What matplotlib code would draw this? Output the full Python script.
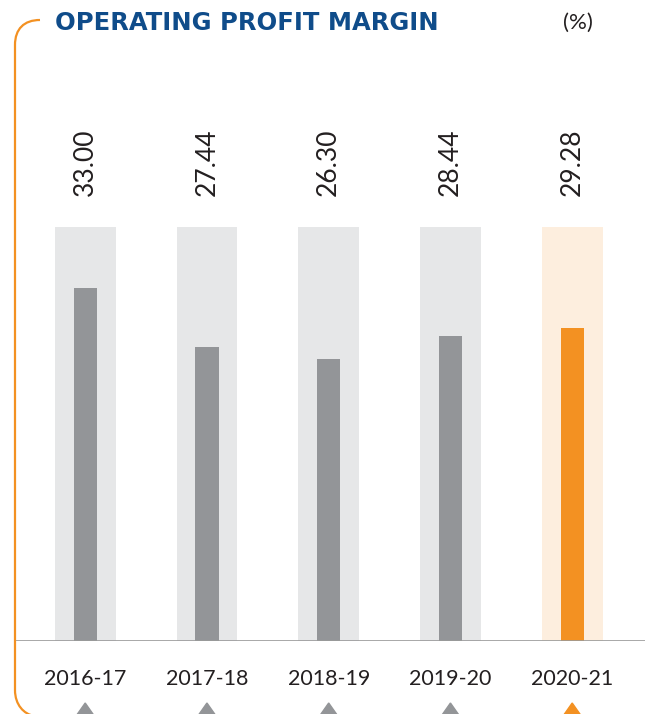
import matplotlib
matplotlib.use("Agg")
import matplotlib.pyplot as plt
from matplotlib.path import Path
from matplotlib.patches import PathPatch, Polygon
from matplotlib.transforms import blended_transform_factory

years = ["2016-17", "2017-18", "2018-19", "2019-20", "2020-21"]
values = [33.00, 27.44, 26.30, 28.44, 29.28]
labels = ["33.00", "27.44", "26.30", "28.44", "29.28"]
bg_value = 38.67

W, H = 648, 714
fig = plt.figure(figsize=(W / 100, H / 100), dpi=100)
ax = fig.add_axes([15 / W, 73 / H, 630 / W, 621 / H])

grey = "#939598"
grey_bg = "#e6e7e8"
orange = "#f39122"
orange_bg = "#fdeede"
blue = "#0f4c8a"
txt = "#231f20"

x = list(range(len(years)))
for i, v in enumerate(values):
    last = i == len(values) - 1
    ax.bar(i, bg_value, width=0.50, color=orange_bg if last else grey_bg, zorder=1)
    ax.bar(i, v, width=0.19, color=orange if last else grey, zorder=2)
    ax.text(i, 41.6, labels[i], rotation=90, ha="center", va="bottom",
            fontsize=19, family="Lato", color=txt)

ax.set_xlim(-0.5766, 4.598)
ax.set_ylim(0, 58)
ax.axhline(0, color="#9a9a9a", lw=1.2, zorder=3)
for s in ax.spines.values():
    s.set_visible(False)
ax.set_xticks(x)
ax.set_xticklabels(years, fontsize=15.5, family="Lato", color=txt)
ax.tick_params(axis="x", length=0, pad=20)
ax.set_yticks([])

# triangles at bottom
tr = blended_transform_factory(ax.transData, fig.transFigure)
for i in x:
    c = orange if i == len(x) - 1 else grey
    hw = 0.075
    poly = Polygon([(i - hw, -2 / H), (i + hw, -2 / H), (i, 11 / H)],
                   closed=True, color=c, transform=tr, clip_on=False)
    fig.add_artist(poly)

# orange frame
def px(xp, yp):
    return (xp / W, 1 - yp / H)

verts = [px(40, 20), px(24, 20), px(15, 29), px(15, 45),
         px(15, 690), px(15, 705), px(24, 714), px(34, 716)]
codes = [Path.MOVETO, Path.CURVE4, Path.CURVE4, Path.CURVE4,
         Path.LINETO, Path.CURVE4, Path.CURVE4, Path.CURVE4]
frame = PathPatch(Path(verts, codes), fill=False, edgecolor=orange, lw=1.6,
                  transform=fig.transFigure)
fig.add_artist(frame)

fig.text(55 / W, 1 - 23 / H, "OPERATING PROFIT MARGIN", fontsize=17.5,
         fontweight="bold", color=blue, va="center", ha="left", family="DejaVu Sans")
fig.text(578 / W, 1 - 23 / H, "(%)", fontsize=16, color=txt,
         va="center", ha="center", family="Lato")

fig.savefig("out.png", dpi=100)
